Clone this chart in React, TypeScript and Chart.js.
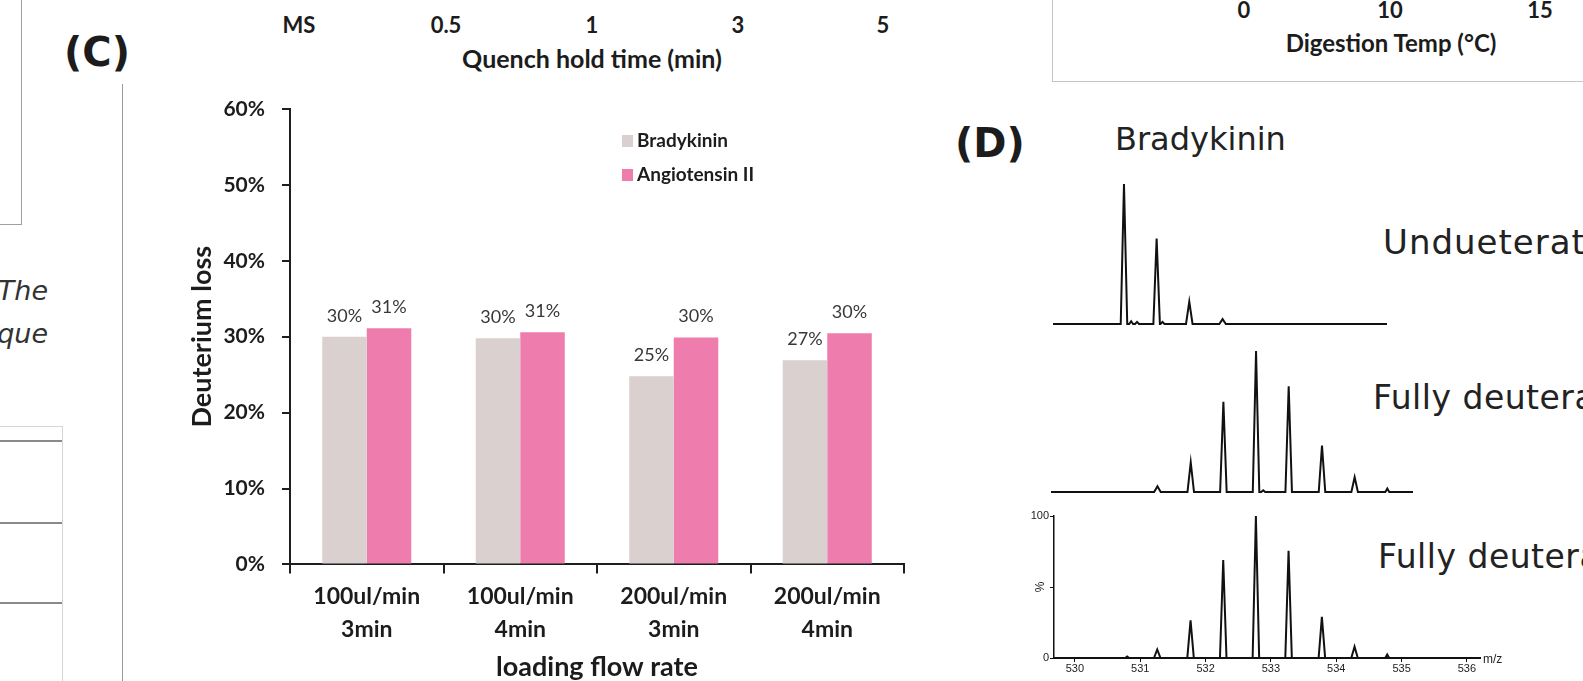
import React, { useEffect, useRef } from 'react';
import { Chart, registerables } from 'chart.js';

Chart.register(...registerables);

// ---------------- Panel (C) data ----------------
const FLOW_CATEGORIES = [
  ['100ul/min', '3min'],
  ['100ul/min', '4min'],
  ['200ul/min', '3min'],
  ['200ul/min', '4min'],
];
const BRADYKININ_LOSS = [30.0, 29.8, 24.8, 26.9];
const ANGIOTENSIN_LOSS = [31.1, 30.6, 29.9, 30.45];
const SERIES_LABELS = ['Bradykinin', 'Angiotensin II'];
const SERIES_COLORS = ['#D9D0CF', '#EE7DAE'];
const LOSS_MAX = 60;
const LOSS_STEP = 10;

// ---------------- neighbouring panel texts ----------------
const QUENCH_TICKS = ['MS', '0.5', '1', '3', '5'];
const TEMP_TICKS = ['0', '10', '15'];

// ---------------- Panel (D) spectra (m/z, relative intensity %) ----------------
const UNDEUT_MZ = [530.75, 530.86, 530.95, 531.25, 531.34, 531.75, 532.26];
const UNDEUT_INT = [100, 2, 1.5, 61, 1.5, 16, 3.5];
const DEUT_A_MZ = [531.26, 531.77, 532.27, 532.77, 532.88, 533.27, 533.78, 534.28, 534.78];
const DEUT_A_INT = [4, 21, 64, 100, 1.2, 75, 33, 10.5, 2.5];
const DEUT_B_MZ = [530.8, 531.26, 531.77, 532.27, 532.77, 533.27, 533.78, 534.28, 534.78];
const DEUT_B_INT = [1, 6, 26.5, 69, 100, 75.5, 29, 8, 2.5];
const MZ_TICKS = [530, 531, 532, 533, 534, 535, 536];
const PCT_TICKS = [0, 50, 100];

const AXIS = '#1e1e1e';
const TXT = '#1c1c1c';

function spectrumPoints(mz: number[], inten: number[], lo: number, hi: number) {
  const pts: { x: number; y: number }[] = [{ x: lo, y: 0 }];
  mz.forEach((m, i) => {
    const hw = inten[i] < 3 ? 0.03 : 0.05;
    pts.push({ x: m - hw, y: 0 }, { x: m, y: inten[i] }, { x: m + hw, y: 0 });
  });
  pts.push({ x: hi, y: 0 });
  return pts;
}

const valueLabels = {
  id: 'valueLabels',
  afterDatasetsDraw(chart: any) {
    const ctx = chart.ctx;
    ctx.save();
    ctx.font = '18px Lato';
    ctx.fillStyle = '#383838';
    ctx.textAlign = 'center';
    ctx.textBaseline = 'alphabetic';
    chart.data.datasets.forEach((ds: any, di: number) => {
      chart.getDatasetMeta(di).data.forEach((el: any, i: number) => {
        ctx.fillText(Math.round(ds.data[i]) + '%', el.x, el.y - 15);
      });
    });
    ctx.restore();
  },
};

const boxLegend = {
  id: 'boxLegend',
  afterDraw(chart: any) {
    const ctx = chart.ctx;
    const { left, top } = chart.chartArea;
    ctx.save();
    ctx.font = 'bold 19px Lato';
    ctx.textAlign = 'left';
    ctx.textBaseline = 'alphabetic';
    chart.data.datasets.forEach((ds: any, i: number) => {
      const x = left + 332;
      const y = top + 26 + i * 34;
      ctx.fillStyle = ds.backgroundColor;
      ctx.fillRect(x, y, 11, 12);
      ctx.fillStyle = TXT;
      ctx.fillText(ds.label, x + 15, y + 12);
    });
    ctx.restore();
  },
};

function barConfig(): any {
  return {
    type: 'bar',
    data: {
      labels: FLOW_CATEGORIES,
      datasets: [
        { label: SERIES_LABELS[0], data: BRADYKININ_LOSS, backgroundColor: SERIES_COLORS[0], borderWidth: 0, categoryPercentage: 0.58, barPercentage: 1 },
        { label: SERIES_LABELS[1], data: ANGIOTENSIN_LOSS, backgroundColor: SERIES_COLORS[1], borderWidth: 0, categoryPercentage: 0.58, barPercentage: 1 },
      ],
    },
    options: {
      responsive: false,
      animation: false,
      layout: { padding: { left: 0, top: 24, right: 26, bottom: 0 } },
      plugins: { legend: { display: false }, tooltip: { enabled: false } },
      scales: {
        x: {
          offset: true,
          grid: { display: true, offset: true, drawOnChartArea: false, drawTicks: true, tickLength: 9, color: AXIS, lineWidth: 2 },
          border: { display: true, color: AXIS, width: 2 },
          ticks: {
            color: TXT,
            font: { family: 'Lato', weight: 'bold', size: 23, lineHeight: 1.43 },
            padding: 7,
            maxRotation: 0,
            autoSkip: false,
          },
          title: {
            display: true,
            text: 'loading flow rate',
            color: TXT,
            font: { family: 'Lato', weight: 'bold', size: 27, lineHeight: 1 },
            padding: { top: 0, bottom: 0.5 },
          },
          afterFit: (s: any) => { s.height = 116.6; s.paddingLeft = 0; s.paddingRight = 0; },
        },
        y: {
          min: 0,
          max: LOSS_MAX,
          ticks: {
            stepSize: LOSS_STEP,
            callback: (v: any) => v + '%',
            color: TXT,
            font: { family: 'Lato', weight: 'bold', size: 21 },
            padding: 17,
          },
          grid: { display: true, drawOnChartArea: false, drawTicks: true, tickLength: 8, color: AXIS, lineWidth: 2 },
          border: { display: true, color: AXIS, width: 2 },
          title: {
            display: true,
            text: 'Deuterium loss',
            color: TXT,
            font: { family: 'Lato', weight: 'bold', size: 27, lineHeight: 1.2 },
            padding: { top: 36, bottom: 0 },
          },
          afterFit: (s: any) => { s.width = 140; s.paddingTop = 0; s.paddingBottom = 0; },
        },
      },
    },
    plugins: [valueLabels, boxLegend],
  };
}

function plainSpectrumConfig(mz: number[], inten: number[], lo: number, hi: number): any {
  return {
    type: 'line',
    data: {
      datasets: [{
        data: spectrumPoints(mz, inten, lo, hi),
        borderColor: '#111',
        borderWidth: 2,
        pointRadius: 0,
        tension: 0,
        fill: false,
        clip: false,
      }],
    },
    options: {
      responsive: false,
      animation: false,
      layout: { padding: { left: 0, right: 0, top: 4, bottom: 4 } },
      plugins: { legend: { display: false }, tooltip: { enabled: false } },
      scales: {
        x: { type: 'linear', min: lo, max: hi, display: false },
        y: { min: 0, max: 100, display: false },
      },
    },
  };
}

function axisSpectrumConfig(): any {
  const lo = 529.68;
  const hi = 536.2;
  const smallFont = { family: 'Liberation Sans', size: 11 };
  return {
    type: 'line',
    data: {
      datasets: [{
        data: spectrumPoints(DEUT_B_MZ, DEUT_B_INT, lo, 535.9),
        borderColor: '#111',
        borderWidth: 2,
        pointRadius: 0,
        tension: 0,
        fill: false,
        clip: false,
      }],
    },
    options: {
      responsive: false,
      animation: false,
      layout: { padding: { left: 0, top: 11, right: 40, bottom: 0 } },
      plugins: { legend: { display: false }, tooltip: { enabled: false } },
      scales: {
        x: {
          type: 'linear',
          min: lo,
          max: hi,
          afterBuildTicks: (s: any) => { s.ticks = MZ_TICKS.map((v) => ({ value: v })); },
          ticks: { font: smallFont, color: '#222', padding: 0, callback: (v: any) => String(v) },
          grid: { drawOnChartArea: false, drawTicks: true, tickLength: 4, color: '#111', lineWidth: 1 },
          border: { color: '#111', width: 2 },
          afterFit: (s: any) => { s.height = 23; },
        },
        y: {
          min: 0,
          max: 100,
          afterBuildTicks: (s: any) => { s.ticks = PCT_TICKS.map((v) => ({ value: v })); },
          ticks: { font: smallFont, color: '#222', padding: 1, callback: (v: any) => (v === 50 ? '' : String(v)) },
          grid: { drawOnChartArea: false, drawTicks: true, tickLength: 4, color: '#111', lineWidth: 1 },
          border: { color: '#111', width: 1.5 },
          title: { display: true, text: '%', color: '#222', font: { family: 'Liberation Sans', size: 12, lineHeight: 1.2 }, padding: { top: 33, bottom: 0 } },
          afterFit: (s: any) => { s.width = 54; },
        },
      },
    },
  };
}

function ChartCanvas(props: { left: number; top: number; width: number; height: number; make: () => any }) {
  const ref = useRef<HTMLCanvasElement>(null);
  useEffect(() => {
    const chart = new Chart(ref.current as HTMLCanvasElement, props.make());
    return () => chart.destroy();
  }, []);
  return (
    <canvas
      ref={ref}
      width={props.width}
      height={props.height}
      style={{ position: 'absolute', left: props.left, top: props.top, width: props.width, height: props.height }}
    />
  );
}

function Txt(props: { x: number; y: number; text: string; font: string; align?: 'center' | 'left' | 'right'; color?: string; spacing?: number }) {
  const align = props.align || 'center';
  const tx = align === 'center' ? '-50%' : align === 'right' ? '-100%' : '0';
  return (
    <div
      style={{
        position: 'absolute',
        left: props.x,
        top: props.y,
        transform: `translate(${tx}, -50%)`,
        font: props.font,
        lineHeight: 1,
        whiteSpace: 'nowrap',
        letterSpacing: props.spacing || 0,
        color: props.color || TXT,
      }}
    >
      {props.text}
    </div>
  );
}

export default function App() {
  const mzToPx = (m: number) => 1075 + (m - 530) * 65.3;
  const quenchX = [299, 446, 592, 738, 883];
  const tempX = [1244, 1390, 1540];
  return (
    <div style={{ position: 'absolute', left: 0, top: 0, width: 1583, height: 681, overflow: 'hidden', background: '#fff' }}>
      {/* frames of neighbouring panels */}
      <div style={{ position: 'absolute', left: -1, top: -1, width: 21, height: 224, border: '1px solid #a0a0a0' }} />
      <div style={{ position: 'absolute', left: 122, top: 84, width: 1, height: 600, background: '#9a9a9a' }} />
      <div style={{ position: 'absolute', left: 1052, top: -1, width: 600, height: 81, border: '1px solid #c4c4c4' }} />
      <div style={{ position: 'absolute', left: -1, top: 426, width: 62, height: 300, border: '1px solid #d6d6d6' }} />
      <div style={{ position: 'absolute', left: 0, top: 440, width: 62, height: 2, background: '#8a8a8a' }} />
      <div style={{ position: 'absolute', left: 0, top: 522, width: 62, height: 2, background: '#8a8a8a' }} />
      <div style={{ position: 'absolute', left: 0, top: 602, width: 62, height: 2, background: '#8a8a8a' }} />

      {/* panel above (C): quench hold time axis */}
      {QUENCH_TICKS.map((t, i) => (
        <Txt key={t} x={quenchX[i]} y={25} text={t} font="bold 22px Lato" />
      ))}
      <Txt x={592} y={58} text="Quench hold time (min)" font="bold 25px Lato" />

      {/* panel above (D): digestion temperature axis */}
      {TEMP_TICKS.map((t, i) => (
        <Txt key={t} x={tempX[i]} y={10} text={t} font="bold 22px Lato" />
      ))}
      <Txt x={1391} y={43} text="Digestion Temp (°C)" font="bold 24px Lato" />

      {/* caption fragment */}
      <Txt x={48} y={290} text="The" align="right" font="oblique 27px 'DejaVu Sans'" color="#333" />
      <Txt x={48} y={333} text="que" align="right" font="oblique 27px 'DejaVu Sans'" color="#333" />

      {/* panel labels */}
      <Txt x={64} y={52} text="(C)" align="left" font="bold 40px 'DejaVu Sans'" />
      <Txt x={955} y={143} text="(D)" align="left" font="bold 40px 'DejaVu Sans'" />

      {/* Panel (C) bar chart */}
      <ChartCanvas left={150} top={85} width={780} height={596} make={barConfig} />

      {/* Panel (D) spectra */}
      <Txt x={1115} y={139} text="Bradykinin" align="left" font="32px 'DejaVu Sans'" color="#222" />
      <Txt x={1383} y={242} text="Undueterated" align="left" font="34px 'DejaVu Sans'" color="#222" spacing={1} />
      <Txt x={1373} y={397} text="Fully deuterated" align="left" font="33px 'DejaVu Sans'" color="#222" spacing={0.5} />
      <Txt x={1378} y={556} text="Fully deuterated" align="left" font="33px 'DejaVu Sans'" color="#222" spacing={0.5} />

      <ChartCanvas
        left={Math.round(mzToPx(529.663))}
        top={180}
        width={334}
        height={148}
        make={() => plainSpectrumConfig(UNDEUT_MZ, UNDEUT_INT, 529.663, 529.663 + 334 / 65.3)}
      />
      <ChartCanvas
        left={Math.round(mzToPx(529.63))}
        top={347}
        width={362}
        height={149}
        make={() => plainSpectrumConfig(DEUT_A_MZ, DEUT_A_INT, 529.63, 529.63 + 362 / 65.3)}
      />
      <ChartCanvas left={1000} top={505} width={520} height={176} make={axisSpectrumConfig} />
      <Txt x={1483} y={659} text="m/z" align="left" font="12px 'Liberation Sans'" color="#222" />
    </div>
  );
}
